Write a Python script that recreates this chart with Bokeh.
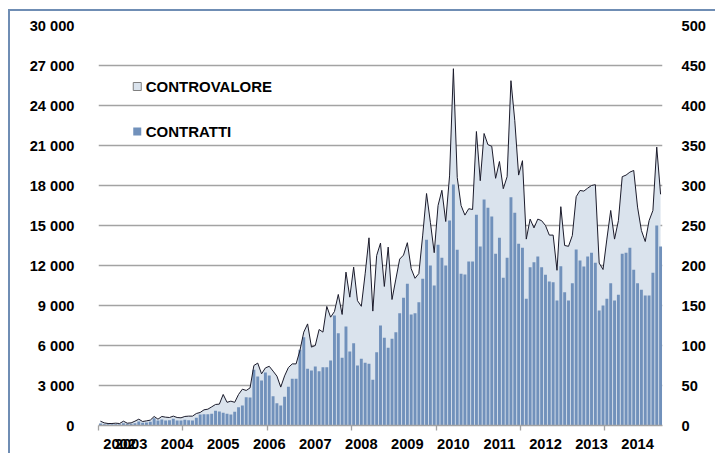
from bokeh.plotting import figure
from bokeh.models import Range1d, LinearAxis, FixedTicker, Div, Spacer
from bokeh.layouts import column, row
from bokeh.core.properties import value
from bokeh.embed import file_html
from bokeh.resources import INLINE

# ---------------- data ----------------
all_months = [f"{y}-{m:02d}" for y in range(2002, 2015) for m in range(1, 13)]
months = all_months[all_months.index("2002-05"):all_months.index("2014-07") + 1]

contratti = [
    150, 100, 100, 100, 100, 100, 175, 125, 125, 175,
    300, 200, 225, 275, 550, 375, 450, 375, 400, 500,
    375, 375, 425, 400, 375, 575, 825, 850, 850, 875,
    1100, 1050, 950, 875, 825, 1025, 1375, 1500, 2125, 2100,
    4175, 3675, 3375, 3975, 3750, 2200, 1675, 1500, 2150, 2900,
    3500, 3500, 5675, 6625, 4250, 4125, 4425, 4075, 4375, 4375,
    4875, 8250, 6925, 5075, 7425, 5550, 6175, 4500, 5000, 4700,
    4625, 3425, 5500, 7500, 6575, 5825, 6500, 7000, 8425, 9575,
    10625, 8325, 8425, 9250, 11000, 13925, 12000, 10500, 13550, 12575,
    12000, 15375, 18075, 13175, 11375, 11325, 12300, 12300, 15800, 13425,
    16950, 16325, 15675, 12875, 14075, 11075, 12575, 17125, 15950, 13625,
    13325, 9500, 11875, 12250, 12675, 11875, 11300, 10800, 10750, 9375,
    11950, 10000, 9375, 10675, 13200, 12375, 11925, 12675, 12950, 12200,
    8625, 9000, 9500, 10675, 9375, 9800, 12875, 12950, 13325, 11675,
    10675, 10175, 9750, 9750, 11450, 15000, 13425,
]

controvalore = [
    5.4, 3.3, 2.5, 2.5, 2.9, 2.5, 5.4, 2.9, 3.3, 5.4,
    7.9, 5.0, 5.8, 6.7, 11.3, 7.9, 11.3, 10.4, 10.0, 11.7,
    10.0, 9.6, 11.3, 11.7, 11.7, 15.0, 16.3, 19.6, 20.4, 23.3,
    26.3, 26.7, 38.8, 29.0, 30.4, 29.0, 38.8, 45.4, 43.8, 47.0,
    75, 78, 64.6, 72, 74, 68, 61.7, 48, 62, 72.5,
    77, 77, 93.8, 116.7, 127, 98, 100, 120, 116.7, 148.8,
    135.4, 142.5, 163.8, 138.8, 191.7, 160.4, 198, 156, 149, 189.6,
    234.6, 143, 212.5, 228, 173.8, 223, 157.5, 183, 208, 213,
    228.5, 196, 184, 190, 238, 290, 254, 216, 275, 294,
    255, 312, 446, 310, 275, 263, 271, 270, 367.5, 306,
    365, 351, 349, 309, 330, 296, 311, 431, 381, 313,
    331, 233, 258, 247, 258, 256, 250, 238, 238, 194,
    273.5, 225, 224, 237.5, 286, 293.8, 293, 296.7, 300, 301,
    203, 195, 233, 268.8, 233, 256, 311, 313, 316.7, 318.8,
    273, 243.8, 230, 256, 268.8, 348, 289,
]

year_labels = ["2002", "2003", "2004", "2005", "2006", "2007", "2008",
               "2009", "2010", "2011", "2012", "2013", "2014"]
year_label_months = ["2002-10", "2003-01", "2004-01", "2005-01", "2006-01",
                     "2007-01", "2008-01", "2009-01", "2010-01", "2011-01",
                     "2012-01", "2013-01", "2014-01"]

left_ticks = list(range(0, 30001, 3000))
right_ticks = list(range(0, 501, 50))

legend_names = ["CONTROVALORE", "CONTRATTI"]

# ---------------- styles ----------------
BAR = "#7191bb"
AREA = "#dae3ed"
LINE = "#1b1b2b"
GRID = "#a3a3a3"
FRAME = "#6f8db4"
FONT = "Liberation Sans"

x = list(range(len(months)))
n = len(months)

p = figure(width=705, height=442, output_backend="svg", toolbar_location=None,
           x_range=Range1d(-0.5, n - 0.5), y_range=Range1d(0, 30000),
           min_border_left=88, min_border_right=53, min_border_top=14,
           min_border_bottom=28, margin=0)
p.extra_y_ranges = {"right": Range1d(0, 500)}
p.outline_line_color = None
p.background_fill_color = "white"
p.border_fill_color = "white"

# area (controvalore) then bars (contratti) then line
p.varea(x=x, y1=[0] * n, y2=controvalore, y_range_name="right",
        fill_color=AREA, fill_alpha=1.0)
p.vbar(x=x, top=contratti, bottom=0, width=0.76, fill_color=BAR,
       line_color=None)
p.line(x, controvalore, y_range_name="right", line_color=LINE, line_width=1)

# axes
lab_ticks = [months.index(m) for m in year_label_months]
bound_ticks = [b - 0.5 for b in range(0, n, 22)]
xa = p.xaxis[0]
xa.ticker = FixedTicker(ticks=lab_ticks, minor_ticks=bound_ticks)
xa.major_label_overrides = {t: l for t, l in zip(lab_ticks, year_labels)}
xa.axis_line_color = GRID
xa.axis_line_width = 1.3
xa.major_tick_line_color = None
xa.major_tick_out = 0
xa.major_tick_in = 0
xa.minor_tick_line_color = GRID
xa.minor_tick_line_width = 1.3
xa.minor_tick_out = 5
xa.minor_tick_in = 0
xa.major_label_standoff = 8
xa.major_label_text_font = FONT
xa.major_label_text_font_style = "bold"
xa.major_label_text_font_size = "11pt"
xa.major_label_text_color = "black"

ya = p.yaxis[0]
ya.ticker = FixedTicker(ticks=left_ticks)
ya.major_label_overrides = {t: f"{t:,}".replace(",", " ") for t in left_ticks}
ya.axis_line_color = None
ya.major_tick_line_color = None
ya.minor_tick_line_color = None
ya.major_label_standoff = 18
ya.major_label_text_font = FONT
ya.major_label_text_font_style = "bold"
ya.major_label_text_font_size = "11pt"
ya.major_label_text_color = "black"

ra = LinearAxis(y_range_name="right", ticker=FixedTicker(ticks=right_ticks))
ra.axis_line_color = None
ra.major_tick_line_color = None
ra.minor_tick_line_color = None
ra.major_label_standoff = 13
ra.major_label_text_font = FONT
ra.major_label_text_font_style = "bold"
ra.major_label_text_font_size = "11pt"
ra.major_label_text_color = "black"
p.add_layout(ra, "right")

p.xgrid.grid_line_color = None
p.ygrid.ticker = FixedTicker(ticks=left_ticks)
p.ygrid.grid_line_color = GRID
p.ygrid.grid_line_width = 1.3

# legend (manual, inside the plot)
leg_x = 9.6
leg_tx = 11.8
leg_y = [25425, 22050]
p.scatter([leg_x], [leg_y[0]], marker="square", size=8, fill_color=AREA,
          line_color="#7f7f7f", line_width=1)
p.scatter([leg_x], [leg_y[1]], marker="square", size=8, fill_color=BAR,
          line_color=None)
p.text(x=[leg_tx, leg_tx], y=leg_y, text=legend_names,
       text_font=value(FONT), text_font_style="bold", text_font_size="15px",
       text_baseline="middle", text_align="left", text_color="black")

# chart-box border (top and left edges), built around the figure
box_style = {"background-color": FRAME, "overflow": "hidden"}
top_line = Div(text="", width=707, height=2, margin=0, styles=box_style)
left_line = Div(text="", width=2, height=442, margin=0, styles=box_style)
layout = column(
    Spacer(width=715, height=9, margin=0),
    row(Spacer(width=8, height=2, margin=0), top_line, spacing=0, margin=0),
    row(Spacer(width=8, height=442, margin=0), left_line, p, spacing=0, margin=0),
    spacing=0, margin=0,
)

open("out.html", "w").write(file_html(layout, INLINE))
